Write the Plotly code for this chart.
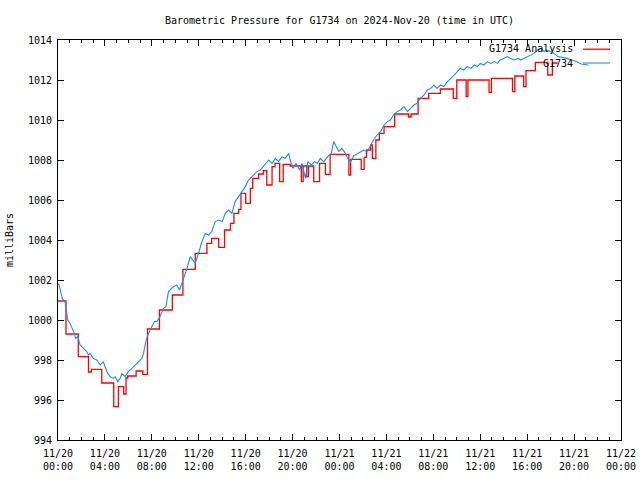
import pandas as pd
import plotly.graph_objects as go

BASE = "2024-11-20 00:00"

# Analysis (stepped) series: hours after base, pressure (mb)
analysis_hours = [0.0, 0.68, 1.73, 2.6, 2.85, 3.73, 4.75, 5.15, 5.6, 5.8, 5.95, 6.66, 7.23, 7.63,
                  8.65, 9.75, 10.65, 11.7, 12.7, 13.1, 13.7, 14.2, 14.7, 15.0, 15.4, 15.6, 16.0,
                  16.4, 16.6, 17.1, 17.5, 17.8, 18.25, 18.5, 18.9, 19.2, 19.8, 20.75, 20.9, 21.2,
                  21.35, 21.8, 22.3, 22.8, 23.2, 24.8, 24.95, 25.85, 26.1, 26.3, 26.65, 26.8,
                  27.1, 27.4, 27.8, 28.7, 29.9, 30.1, 30.7, 31.6, 32.6, 33.7, 34.0, 34.8, 34.95,
                  36.75, 36.95, 38.75, 38.95, 39.7, 39.9, 40.7, 41.75, 42.15, 42.6]
analysis_values = [1000.95, 999.3, 998.17, 997.4, 997.53, 996.85, 995.67, 996.67, 996.3, 997.1,
                   997.2, 997.45, 997.28, 999.55, 1000.5, 1001.25, 1002.53, 1003.33, 1003.83,
                   1004.08, 1003.63, 1004.5, 1004.83, 1005.33, 1005.53, 1006.33, 1005.83,
                   1006.58, 1007.08, 1007.3, 1007.47, 1006.75, 1007.67, 1007.83, 1006.92,
                   1007.78, 1007.7, 1006.92, 1007.7, 1007.17, 1007.7, 1006.92, 1007.83, 1007.28,
                   1008.28, 1007.25, 1008.03, 1007.53, 1008.13, 1008.5, 1008.75, 1008.08,
                   1009.0, 1009.33, 1009.67, 1010.3, 1010.15, 1010.3, 1011.08, 1011.33,
                   1011.55, 1011.08, 1012.0, 1011.17, 1012.0, 1011.38, 1012.08, 1011.42,
                   1012.2, 1011.67, 1012.47, 1012.88, 1012.25, 1012.85, 1012.85]

# Observed series
obs_hours = [0.0, 0.1, 0.26, 0.37, 0.6, 0.74, 0.83, 1.02, 1.22, 1.4, 1.5, 1.68, 1.88, 2.16, 2.45,
             2.6, 2.73, 3.0, 3.3, 3.6, 3.87, 4.0, 4.24, 4.44, 4.72, 4.87, 5.1, 5.3, 5.44, 5.72,
             6.0, 6.3, 6.58, 6.86, 7.15, 7.29, 7.49, 7.71, 8.0, 8.22, 8.43, 8.7, 8.99, 9.2,
             9.42, 9.85, 10.13, 10.36, 10.56, 10.85, 11.0, 11.27, 11.5, 11.7, 11.98, 12.27,
             12.55, 12.84, 13.1, 13.4, 13.7, 14.0, 14.26, 14.54, 14.83, 15.1, 15.4, 15.7,
             15.97, 16.25, 16.54, 16.8, 16.96, 17.25, 17.68, 17.96, 18.25, 18.53, 18.8, 19.1,
             19.38, 19.67, 19.8, 20.04, 20.3, 20.6, 20.8, 21.1, 21.3, 21.6, 21.86, 22.1, 22.37,
             22.66, 23.0, 23.3, 23.5, 23.65, 23.94, 24.2, 24.5, 24.7, 24.94, 25.2, 25.5, 25.8,
             26.07, 26.36, 26.64, 26.9, 27.2, 27.5, 27.8, 28.07, 28.35, 28.6, 28.9, 29.2, 29.5,
             29.8, 30.06, 30.34, 30.6, 30.9, 31.2, 31.5, 31.77, 32.05, 32.3, 32.6, 32.9, 33.2,
             33.5, 33.76, 34.05, 34.3, 34.6, 34.9, 35.2, 35.5, 35.75, 36.0, 36.3, 36.6, 36.9,
             37.2, 37.46, 37.7, 38.0, 38.3, 38.6, 38.9, 39.2, 39.45, 39.7, 40.0, 40.3, 40.6,
             40.9, 41.2, 41.45, 41.7, 42.0, 42.3, 42.6, 43.0, 43.4, 43.8, 44.2, 44.6, 45.2]
obs_values = [1001.8, 1001.75, 1001.33, 1001.08, 1000.92, 1000.33, 1000.0, 999.83, 999.58,
              999.33, 999.08, 999.17, 998.75, 998.58, 998.42, 998.25, 998.33, 998.08, 998.0,
              997.75, 997.92, 997.67, 997.33, 997.17, 997.08, 997.17, 996.92, 997.08, 997.33,
              997.17, 997.42, 997.58, 997.75, 997.87, 998.08, 998.33, 998.92, 999.33, 999.67,
              999.92, 999.92, 1000.17, 1000.58, 1000.67, 1001.42, 1001.67, 1001.75, 1001.5,
              1001.83, 1002.33, 1002.58, 1003.17, 1003.0, 1002.83, 1003.33, 1003.92, 1004.33,
              1004.25, 1004.42, 1004.92, 1005.0, 1004.92, 1005.33, 1005.5, 1005.33, 1005.92,
              1006.17, 1006.42, 1006.67, 1007.0, 1007.17, 1007.33, 1007.42, 1007.5, 1007.83,
              1008.0, 1007.83, 1008.08, 1007.92, 1008.17, 1008.08, 1008.33, 1008.0, 1007.58,
              1007.83, 1007.5, 1007.83, 1007.08, 1007.92, 1007.75, 1007.92, 1007.83, 1008.08,
              1007.92, 1008.17, 1008.33, 1008.92, 1008.75, 1008.42, 1008.58, 1008.33, 1008.08,
              1007.9, 1008.2, 1008.3, 1008.42, 1008.5, 1008.42, 1008.75, 1009.0, 1009.25,
              1009.42, 1009.75, 1009.92, 1010.0, 1010.25, 1010.42, 1010.5, 1010.67, 1010.42,
              1010.58, 1010.75, 1010.83, 1011.08, 1011.25, 1011.5, 1011.58, 1011.75, 1011.58,
              1011.75, 1011.67, 1011.92, 1012.08, 1012.25, 1012.42, 1012.58, 1012.5, 1012.67,
              1012.58, 1012.75, 1012.67, 1012.83, 1012.75, 1012.92, 1012.83, 1012.92, 1012.83,
              1013.0, 1013.08, 1013.17, 1013.08, 1013.0, 1013.08, 1013.0, 1013.08, 1013.17,
              1013.25, 1013.33, 1013.5, 1013.58, 1013.42, 1013.5, 1013.42, 1013.33, 1013.17,
              1013.13, 1013.08, 1013.0, 1012.92, 1012.8, 1012.75]

tick_hours = [0, 4, 8, 12, 16, 20, 24, 28, 32, 36, 40, 44, 48]
tick_labels = ["11/20<br>00:00", "11/20<br>04:00", "11/20<br>08:00", "11/20<br>12:00",
               "11/20<br>16:00", "11/20<br>20:00", "11/21<br>00:00", "11/21<br>04:00",
               "11/21<br>08:00", "11/21<br>12:00", "11/21<br>16:00", "11/21<br>20:00",
               "11/22<br>00:00"]
y_ticks = [994, 996, 998, 1000, 1002, 1004, 1006, 1008, 1010, 1012, 1014]

base = pd.Timestamp(BASE)
to_t = lambda hs: [base + pd.Timedelta(hours=h) for h in hs]

FONT = "DejaVu Sans Mono"
FS = 10
RED = "#ff0000"
BLUE = "#1a8cff"

fig = go.Figure()
fig.add_trace(go.Scatter(x=to_t(analysis_hours), y=analysis_values, mode="lines",
                         line=dict(color=RED, width=1.3, shape="hv"),
                         name="G1734 Analysis", showlegend=False))
fig.add_trace(go.Scatter(x=to_t(obs_hours), y=obs_values, mode="lines",
                         line=dict(color=BLUE, width=1.1),
                         name="G1734", showlegend=False))

axis_common = dict(showline=True, linecolor="black", linewidth=1, mirror="allticks",
                   ticks="inside", tickcolor="black", showgrid=False, zeroline=False,
                   automargin=False,
                   tickfont=dict(family=FONT, size=FS, color="black"))

fig.update_xaxes(range=[base, base + pd.Timedelta(hours=48)], tickmode="array",
                 tickvals=to_t(tick_hours), ticktext=tick_labels, ticklen=6,
                 ticklabelstandoff=4,
                 minor=dict(ticks="inside", dtick=3600000, tick0=base, ticklen=3,
                            tickcolor="black", showgrid=False),
                 **axis_common)
fig.update_yaxes(range=[994, 1014], tickmode="array", tickvals=y_ticks, ticklen=6,
                 ticklabelstandoff=3,
                 title=dict(text="milliBars", font=dict(family=FONT, size=FS, color="black"),
                            standoff=12),
                 **axis_common)

# gnuplot-style key: right-aligned text with line sample to its right
fig.add_annotation(xref="paper", yref="paper", x=0.918, y=0.9775, xanchor="right",
                   yanchor="middle", text="G1734 Analysis", showarrow=False,
                   font=dict(family=FONT, size=FS, color="black"))
fig.add_annotation(xref="paper", yref="paper", x=0.918, y=0.9425, xanchor="right",
                   yanchor="middle", text="G1734", showarrow=False,
                   font=dict(family=FONT, size=FS, color="black"))
fig.add_shape(type="line", xref="paper", yref="paper", x0=0.9325, x1=0.9805, y0=0.977,
              y1=0.977, line=dict(color=RED, width=1.3))
fig.add_shape(type="line", xref="paper", yref="paper", x0=0.9325, x1=0.9805, y0=0.9425,
              y1=0.9425, line=dict(color=BLUE, width=1.1))

fig.update_layout(
    width=640, height=480,
    margin=dict(l=58, r=19, t=40, b=40, autoexpand=False),
    paper_bgcolor="white", plot_bgcolor="white",
    title=dict(text="Barometric Pressure for G1734 on 2024-Nov-20 (time in UTC)",
               xref="paper", x=0.5, xanchor="center", yref="container", y=0.958,
               yanchor="middle", automargin=False,
               font=dict(family=FONT, size=FS, color="black")),
    font=dict(family=FONT, size=FS, color="black"),
)

fig.write_html("out.html", config={"displayModeBar": False},
               post_script="document.body.style.margin='0';document.body.style.overflow='hidden';")
